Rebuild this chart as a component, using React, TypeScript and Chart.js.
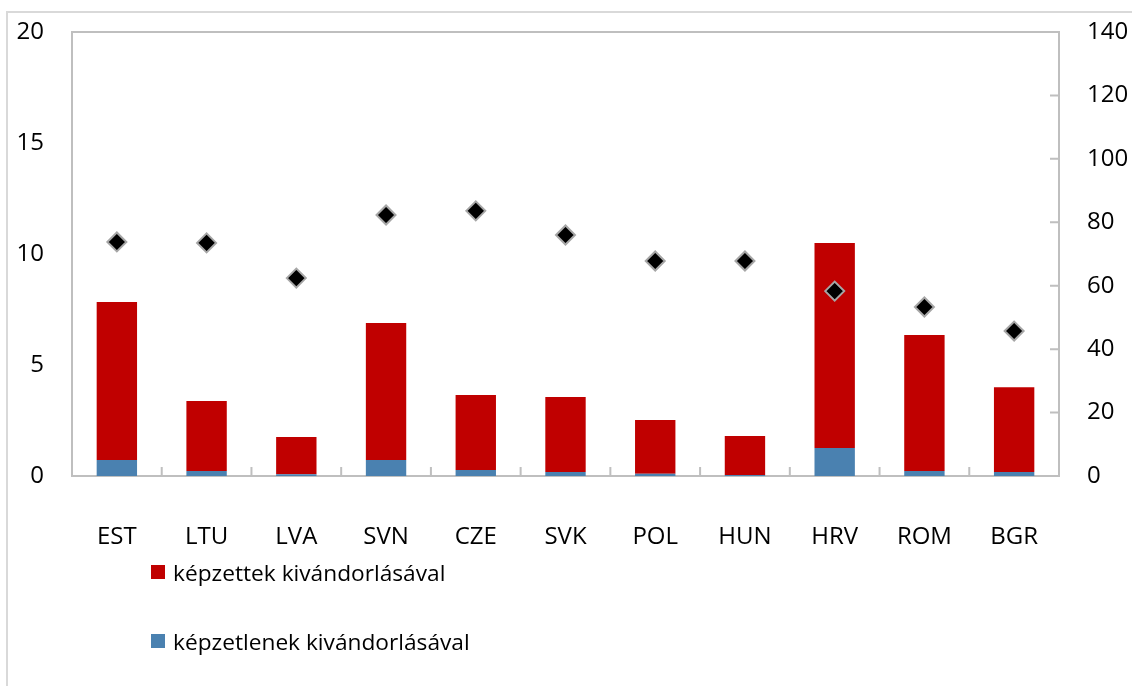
import React, { useEffect, useRef } from "react";
import { Chart, registerables } from "chart.js";

Chart.register(...registerables);

const categories = ["EST", "LTU", "LVA", "SVN", "CZE", "SVK", "POL", "HUN", "HRV", "ROM", "BGR"];
const unskilled = [0.72, 0.22, 0.08, 0.72, 0.27, 0.18, 0.1, 0.04, 1.26, 0.23, 0.18];
const skilled = [7.12, 3.16, 1.68, 6.17, 3.38, 3.38, 2.42, 1.76, 9.24, 6.12, 3.82];
const diamonds = [73.8, 73.5, 62.4, 82.3, 83.6, 76.0, 67.8, 67.8, 58.3, 53.3, 45.7];
const leftTicks = [0, 5, 10, 15, 20];
const rightTicks = [0, 20, 40, 60, 80, 100, 120, 140];
const legendSkilled = "képzettek kivándorlásával";
const legendUnskilled = "képzetlenek kivándorlásával";

const RED = "#c00000";
const BLUE = "#4a81b0";
const FRAME = "#bfbfbf";
const FONT = "'Open Sans', 'Noto Sans', sans-serif";
const FONT_SIZE = 24;
const LEGEND_FONT_SIZE = 22.7;

const framePlugin = {
  id: "framePlugin",
  beforeDatasetsDraw(chart: any) {
    const { ctx, chartArea } = chart;
    const x = chart.scales.x;
    const y2 = chart.scales.y2;
    ctx.save();
    ctx.strokeStyle = FRAME;
    ctx.lineWidth = 2;
    ctx.strokeRect(chartArea.left, chartArea.top, chartArea.right - chartArea.left, chartArea.bottom - chartArea.top);
    ctx.beginPath();
    for (let i = 1; i < categories.length; i++) {
      const px = (x.getPixelForValue(i - 1) + x.getPixelForValue(i)) / 2;
      ctx.moveTo(px, chartArea.bottom);
      ctx.lineTo(px, chartArea.bottom - 9);
    }
    rightTicks.forEach((v) => {
      const py = y2.getPixelForValue(v);
      ctx.moveTo(chartArea.right, py);
      ctx.lineTo(chartArea.right - 9, py);
    });
    ctx.stroke();
    ctx.restore();
  },
};

export default function App() {
  const ref = useRef<HTMLCanvasElement | null>(null);
  useEffect(() => {
    if (!ref.current) return;
    const chart = new Chart(ref.current, {
      type: "bar",
      data: {
        labels: categories,
        datasets: [
          {
            type: "line",
            label: "index",
            data: diamonds,
            yAxisID: "y2",
            showLine: false,
            pointStyle: "rectRot",
            pointRadius: 9.5,
            pointBackgroundColor: "#000000",
            pointBorderColor: "#a6a6a6",
            pointBorderWidth: 2,
            order: 0,
          } as any,
          {
            label: legendUnskilled,
            data: unskilled,
            backgroundColor: BLUE,
            yAxisID: "y",
            barPercentage: 0.45,
            categoryPercentage: 1,
            order: 1,
          },
          {
            label: legendSkilled,
            data: skilled,
            backgroundColor: RED,
            yAxisID: "y",
            barPercentage: 0.45,
            categoryPercentage: 1,
            order: 1,
          },
        ],
      },
      options: {
        responsive: false,
        animation: false,
        layout: { padding: { top: 32, left: 0, right: 0, bottom: 0 } },
        plugins: { legend: { display: false }, tooltip: { enabled: false } },
        scales: {
          x: {
            stacked: true,
            grid: { display: false, drawTicks: false },
            border: { display: false },
            ticks: { padding: 47, color: "#000", font: { family: FONT, size: FONT_SIZE } },
            afterFit(scale: any) {
              scale.height = 210;
              scale.paddingLeft = 0;
              scale.paddingRight = 0;
            },
          },
          y: {
            position: "left",
            stacked: true,
            min: 0,
            max: 20,
            afterBuildTicks(scale: any) {
              scale.ticks = leftTicks.map((v) => ({ value: v }));
            },
            grid: { display: false, drawTicks: false },
            border: { display: false },
            ticks: { padding: 28, color: "#000", font: { family: FONT, size: FONT_SIZE } },
            afterFit(scale: any) {
              scale.width = 72;
              scale.paddingTop = 0;
              scale.paddingBottom = 0;
            },
          },
          y2: {
            position: "right",
            stacked: false,
            min: 0,
            max: 140,
            afterBuildTicks(scale: any) {
              scale.ticks = rightTicks.map((v) => ({ value: v }));
            },
            grid: { display: false, drawTicks: false },
            border: { display: false },
            ticks: { padding: 28, color: "#000", font: { family: FONT, size: FONT_SIZE } },
            afterFit(scale: any) {
              scale.width = 73;
              scale.paddingTop = 0;
              scale.paddingBottom = 0;
            },
          },
        },
      },
      plugins: [framePlugin],
    });
    return () => chart.destroy();
  }, []);

  const legendItem = (color: string, text: string, top: number) => (
    <div style={{ position: "absolute", left: 151, top, height: 34, display: "flex", alignItems: "center", fontFamily: FONT, fontSize: LEGEND_FONT_SIZE, color: "#000", whiteSpace: "nowrap" }}>
      <span style={{ display: "inline-block", width: 14, height: 14, background: color, marginRight: 8 }} />
      <span>{text}</span>
    </div>
  );

  return (
    <div style={{ position: "fixed", left: 0, top: 0, width: 1132, height: 686, overflow: "hidden", background: "#fff" }}>
      <div style={{ position: "absolute", left: 6, top: 11, width: 1200, height: 800, border: "2px solid #d9d9d9" }} />
      <canvas ref={ref} width={1132} height={686} style={{ position: "absolute", left: 0, top: 0 }} />
      {legendItem(RED, legendSkilled, 555)}
      {legendItem(BLUE, legendUnskilled, 624)}
    </div>
  );
}
